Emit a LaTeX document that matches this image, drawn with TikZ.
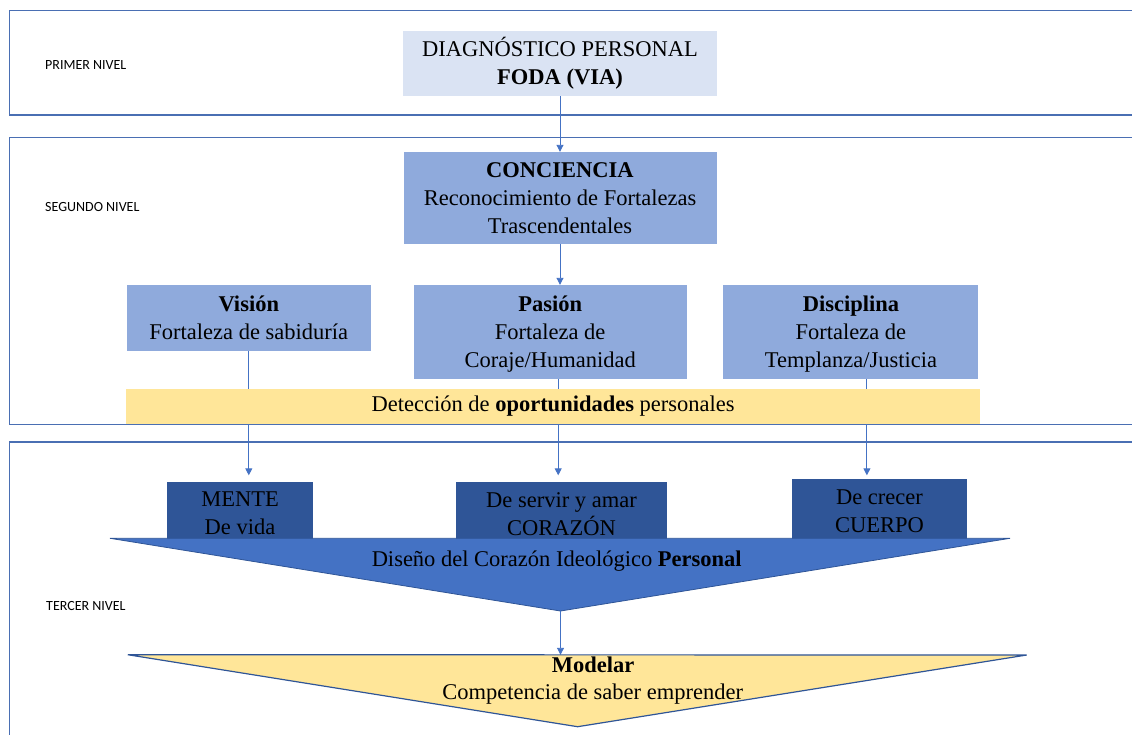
\documentclass[tikz,border=0pt]{standalone}
\usepackage{fontspec}
\setmainfont{Liberation Serif}
\newfontfamily\lblfont{Carlito}
\usetikzlibrary{arrows.meta}
\definecolor{frameblue}{HTML}{4A6FB3}
\definecolor{connblue}{HTML}{4472C4}
\definecolor{lightblue}{HTML}{DAE3F3}
\definecolor{midblue}{HTML}{8FAADC}
\definecolor{darkblue}{HTML}{2F5597}
\definecolor{triblue}{HTML}{4472C4}
\definecolor{softyellow}{HTML}{FFE699}
\begin{document}
\begin{tikzpicture}[x=1pt,y=-1pt,
  box/.style={inner sep=0pt, align=center, font=\fontsize{22.5}{28}\selectfont},
  txt/.style={inner sep=0pt, font=\fontsize{22.5}{28}\selectfont},
  lvl/.style={font=\lblfont\fontsize{14}{16}\selectfont, anchor=base west, inner sep=0pt},
  frame/.style={draw=frameblue, line width=1.2pt},
  conn/.style={draw=connblue, line width=0.9pt, -{Triangle[width=7pt,length=7pt]}}]
\useasboundingbox (0,0) rectangle (1132,734);
\clip (0,0) rectangle (1132,734);
% frames
\draw[frame] (1145,10.5) -- (9.2,10.5) -- (9.2,115) -- (1145,115);
\draw[frame] (1145,137.5) -- (9.2,137.5) -- (9.2,424.5) -- (1145,424.5);
\draw[frame] (1145,442) -- (9.2,442) -- (9.2,745);
% labels
\node[lvl] (l1) at (45,69) {PRIMER NIVEL};
\node[lvl] (l2) at (45,211.5) {SEGUNDO NIVEL};
\node[lvl] (l3) at (46,610.5) {TERCER NIVEL};
% boxes
\node[box, fill=lightblue, minimum width=314pt, minimum height=65pt] (diag) at (560,63.5) {DIAGNÓSTICO PERSONAL\\\textbf{FODA (VIA)}};
\node[box, fill=midblue, minimum width=313pt, minimum height=92pt] (conc) at (560,198) {\textbf{CONCIENCIA}\\Reconocimiento de Fortalezas\\Trascendentales};
\node[box, fill=midblue, minimum width=244pt, minimum height=66pt] (vis) at (248.8,318) {\textbf{Visión}\\Fortaleza de sabiduría};
\node[box, fill=midblue, minimum width=273pt, minimum height=94pt] (pas) at (550.2,332) {\rule{0pt}{20pt}\textbf{Pasión}\\Fortaleza de\\Coraje/Humanidad};
\node[box, fill=midblue, minimum width=255pt, minimum height=94pt] (dis) at (850.9,332) {\rule{0pt}{20pt}\textbf{Disciplina}\\Fortaleza de\\Templanza/Justicia};
\node[box, fill=darkblue, minimum width=146.6pt, minimum height=62pt] (mente) at (240,513) {MENTE\\De vida};
\node[box, fill=darkblue, minimum width=211pt, minimum height=64pt] (serv) at (561.5,514) {De servir y amar\\CORAZÓN};
\node[box, fill=darkblue, minimum width=175.6pt, minimum height=65pt] (crec) at (879.5,511.5) {De crecer\\CUERPO};
% connectors
\draw[conn] (diag.south) -- (conc.north);
\draw[conn] (conc.south) -- (conc.south |- pas.north);
\draw[conn, shorten >=6.5pt] (vis.south) -- (vis.south |- mente.north);
\draw[conn, shorten >=6.5pt] ([xshift=8pt]pas.south) -- ([xshift=8pt]pas.south |- serv.north);
\draw[conn, shorten >=3.5pt] ([xshift=16pt]dis.south) -- ([xshift=16pt]dis.south |- crec.north);
% opportunity bar
\node[box, fill=softyellow, minimum width=853.4pt, minimum height=35.5pt] (bar) at (553.1,406.5) {Detección de \textbf{oportunidades} personales};
% triangles
\coordinate (btl) at (110,538.3);
\coordinate (btr) at (1010,538.3);
\coordinate (bta) at (560.5,611);
\draw[fill=triblue, draw=darkblue, line width=0.8pt] (btl) -- (btr) -- (bta) -- cycle;
\node[txt, anchor=base] (disenio) at (556.7,566.7) {Diseño del Corazón Ideológico \textbf{Personal}};
\coordinate (ytl) at (127.8,654.7);
\coordinate (ytr) at (1026.7,655);
\coordinate (yta) at (577.6,726.7);
\coordinate (ytop) at (560.5,654.8);
\draw[conn] (bta) -- (ytop);
\draw[fill=softyellow, draw=darkblue, line width=1.2pt] (ytl) -- (ytr) -- (yta) -- cycle;
\node[txt, anchor=base] (model) at (593,672) {\textbf{Modelar}};
\node[txt, anchor=base] (compet) at (592.7,699.3) {Competencia de saber emprender};
\end{tikzpicture}
\end{document}
